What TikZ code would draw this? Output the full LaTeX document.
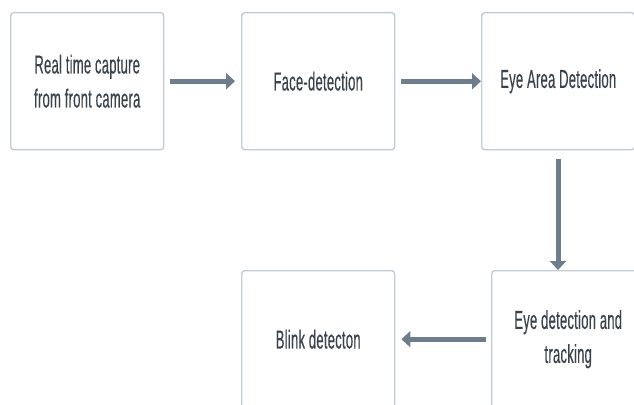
\documentclass[tikz,border=0pt]{standalone}
\usepackage{fontspec}
\setmainfont[FakeStretch=0.5,FakeBold=0.35,LetterSpace=1]{Liberation Sans}
\usetikzlibrary{arrows.meta}
\definecolor{boxline}{HTML}{C3CCD5}
\definecolor{arrowcol}{HTML}{6E7D8B}
\definecolor{txtcol}{HTML}{3A434C}
\tikzset{
  stagebox/.style={draw=boxline, line width=1.4pt, rounded corners=3pt, fill=white,
    minimum width=153pt, minimum height=137pt, inner sep=0pt, text=txtcol,
    align=center, font=\fontsize{26}{34}\selectfont, anchor=north west},
  flowarrow/.style={draw=arrowcol, line width=5pt,
    -{Triangle[length=9pt,width=16pt]}}
}
\begin{document}
\begin{tikzpicture}[x=1pt,y=-1pt]
\useasboundingbox (0,0) rectangle (634,404);
\clip (0,0) rectangle (634,404);
\node[stagebox] (b1) at (10,12) {Real time capture\\from front camera};
\node[stagebox] (b2) at (241,12) {Face-detection};
\node[stagebox] (b3) at (481,12) {Eye Area Detection};
\node[stagebox] (b5) at (491,270) {Eye detection and\\tracking};
\node[stagebox] (b4) at (241,270) {Blink detecton};
\draw[flowarrow] ([xshift=6pt]b1.east) -- ([xshift=-6pt]b2.west);
\draw[flowarrow] ([xshift=6pt]b2.east) -- (b3.west);
\draw[flowarrow] ([yshift=-9pt]b3.south -| 558,0) -- (558,0 |- b5.north);
\draw[flowarrow] ([xshift=-5pt]b5.west) -- ([xshift=6pt]b4.east);
\end{tikzpicture}
\end{document}
